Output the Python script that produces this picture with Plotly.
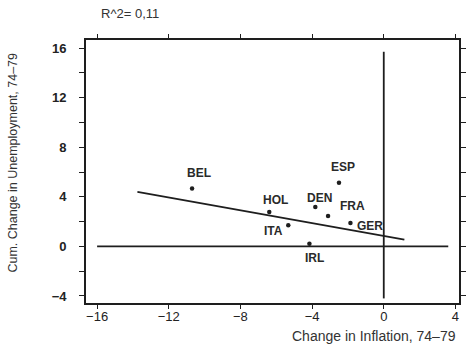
import plotly.graph_objects as go

# ---- data ----
countries = ["BEL", "HOL", "DEN", "ESP", "FRA", "GER", "ITA", "IRL"]
inflation_change = [-10.7, -6.39, -3.82, -2.50, -3.11, -1.86, -5.33, -4.15]
unemployment_change = [4.67, 2.78, 3.18, 5.13, 2.45, 1.89, 1.70, 0.22]

fit_x = [-13.75, 1.15]
fit_y = [4.40, 0.54]

vline_x = [0, 0]
vline_y = [-4.2, 15.7]
hline_x = [-16.0, 3.6]
hline_y = [0, 0]

x_ticks = [-16, -12, -8, -4, 0, 4]
y_ticks = [16, 14, 12, 10, 8, 6, 4, 2, 0, -2, -4]
y_tick_text = ["16", "", "12", "", "8", "", "4", "", "0", "", "\u22124"]
x_tick_text = ["\u221216", "\u221212", "\u22128", "\u22124", "0", "4"]

r2_text = "R^2= 0,11"

# label offsets in pixels (dx, dy) relative to points
label_offsets = {
    "BEL": (7, 15), "HOL": (6, 12), "DEN": (4, 9), "ESP": (4, 16),
    "FRA": (24, 10), "GER": (20, -3), "ITA": (-15, -6), "IRL": (5, -14),
}

ink = "#1e1e1e"
fig = go.Figure()

fig.add_trace(go.Scatter(x=hline_x, y=hline_y, mode="lines",
                         line=dict(color=ink, width=1.6), hoverinfo="skip"))
fig.add_trace(go.Scatter(x=vline_x, y=vline_y, mode="lines",
                         line=dict(color=ink, width=1.8), hoverinfo="skip"))
fig.add_trace(go.Scatter(x=fit_x, y=fit_y, mode="lines",
                         line=dict(color=ink, width=1.8), hoverinfo="skip"))
fig.add_trace(go.Scatter(x=inflation_change, y=unemployment_change, mode="markers",
                         marker=dict(color=ink, size=4.5)))

for c, xv, yv in zip(countries, inflation_change, unemployment_change):
    dx, dy = label_offsets[c]
    fig.add_annotation(x=xv, y=yv, text=c, showarrow=False, xshift=dx, yshift=dy,
                       font=dict(family="Liberation Sans", size=12, color="#2a2a2a", weight="bold"))

fig.add_annotation(xref="paper", yref="paper", x=0.118, y=1.099, xanchor="center", yanchor="middle",
                   text=r2_text, showarrow=False,
                   font=dict(family="Liberation Sans", size=13, color="#333"))
fig.add_annotation(xref="paper", yref="paper", x=0.997, y=-0.125, xanchor="right", yanchor="middle",
                   text="Change in Inflation, 74\u201379", showarrow=False,
                   font=dict(family="Liberation Sans", size=14, color="#333"))
fig.add_annotation(xref="paper", yref="paper", x=-0.195, y=0.535, xanchor="center", yanchor="middle",
                   textangle=-90,
                   text="Cum. Change in Unemployment, 74\u201379", showarrow=False,
                   font=dict(family="Liberation Sans", size=12.5, color="#333"))

fig.update_layout(
    width=474, height=349,
    margin=dict(l=86, r=8, t=40, b=46),
    paper_bgcolor="white", plot_bgcolor="white",
    showlegend=False,
    xaxis=dict(range=[-16.62, 4.2], tickvals=x_ticks, ticktext=x_tick_text,
               showgrid=False, zeroline=False, showline=True, linecolor=ink, linewidth=1.8,
               mirror="ticks", ticks="outside", ticklen=4, tickcolor=ink, tickwidth=1.2,
               ticklabelstandoff=-4,
               tickfont=dict(family="Liberation Sans", size=13, color="#222")),
    yaxis=dict(range=[-4.57, 16.65], tickvals=y_ticks, ticktext=y_tick_text,
               showgrid=False, zeroline=False, showline=True, linecolor=ink, linewidth=1.8,
               mirror="ticks", ticks="outside", ticklen=5, tickcolor=ink, tickwidth=1.2,
               ticklabelstandoff=10,
               tickfont=dict(family="Liberation Sans", size=13, color="#222", weight="bold")),
)

fig.write_html("out.html")
